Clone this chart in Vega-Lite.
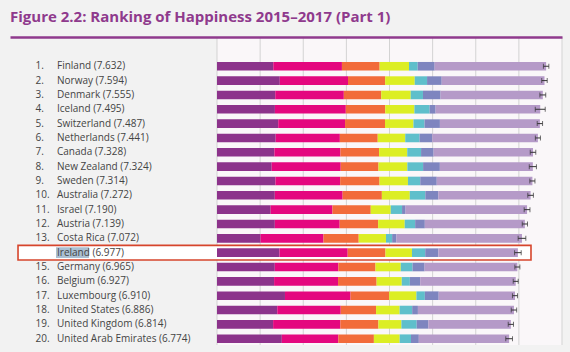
{
  "$schema": "https://vega.github.io/schema/vega-lite/v6.json",
  "width": 552,
  "height": 308,
  "autosize": {"type": "none"},
  "padding": {"left": 10, "top": 37, "right": 8, "bottom": 7},
  "background": "#f2f2f2",
  "config": {"view": {"stroke": null}},
  "title": {
    "text": "Figure 2.2: Ranking of Happiness 2015–2017 (Part 1)",
    "anchor": "start",
    "frame": "group",
    "font": "Open Sans",
    "fontSize": 15,
    "fontWeight": "bold",
    "color": "#8f3a8d",
    "offset": 0,
    "baseline": "alphabetic"
  },
  "data": {
    "values": [
      {"rank": 1, "country": "Finland", "label": "Finland (7.632)", "score": 7.632, "lo": 7.569, "hi": 7.695, "gdp": 1.305, "social": 1.592, "health": 0.874, "freedom": 0.681, "generosity": 0.202, "corruption": 0.393, "dystopia": 2.585},
      {"rank": 2, "country": "Norway", "label": "Norway (7.594)", "score": 7.594, "lo": 7.53, "hi": 7.657, "gdp": 1.456, "social": 1.582, "health": 0.861, "freedom": 0.686, "generosity": 0.286, "corruption": 0.34, "dystopia": 2.383},
      {"rank": 3, "country": "Denmark", "label": "Denmark (7.555)", "score": 7.555, "lo": 7.487, "hi": 7.623, "gdp": 1.351, "social": 1.59, "health": 0.868, "freedom": 0.683, "generosity": 0.284, "corruption": 0.408, "dystopia": 2.371},
      {"rank": 4, "country": "Iceland", "label": "Iceland (7.495)", "score": 7.495, "lo": 7.38, "hi": 7.611, "gdp": 1.343, "social": 1.644, "health": 0.914, "freedom": 0.677, "generosity": 0.353, "corruption": 0.138, "dystopia": 2.426},
      {"rank": 5, "country": "Switzerland", "label": "Switzerland (7.487)", "score": 7.487, "lo": 7.425, "hi": 7.549, "gdp": 1.42, "social": 1.549, "health": 0.927, "freedom": 0.66, "generosity": 0.256, "corruption": 0.357, "dystopia": 2.318},
      {"rank": 6, "country": "Netherlands", "label": "Netherlands (7.441)", "score": 7.441, "lo": 7.382, "hi": 7.5, "gdp": 1.361, "social": 1.488, "health": 0.878, "freedom": 0.638, "generosity": 0.333, "corruption": 0.295, "dystopia": 2.448},
      {"rank": 7, "country": "Canada", "label": "Canada (7.328)", "score": 7.328, "lo": 7.264, "hi": 7.392, "gdp": 1.33, "social": 1.532, "health": 0.896, "freedom": 0.653, "generosity": 0.321, "corruption": 0.291, "dystopia": 2.305},
      {"rank": 8, "country": "New Zealand", "label": "New Zealand (7.324)", "score": 7.324, "lo": 7.241, "hi": 7.407, "gdp": 1.268, "social": 1.601, "health": 0.876, "freedom": 0.669, "generosity": 0.365, "corruption": 0.389, "dystopia": 2.156},
      {"rank": 9, "country": "Sweden", "label": "Sweden (7.314)", "score": 7.314, "lo": 7.254, "hi": 7.373, "gdp": 1.355, "social": 1.501, "health": 0.913, "freedom": 0.659, "generosity": 0.285, "corruption": 0.383, "dystopia": 2.218},
      {"rank": 10, "country": "Australia", "label": "Australia (7.272)", "score": 7.272, "lo": 7.207, "hi": 7.337, "gdp": 1.34, "social": 1.573, "health": 0.91, "freedom": 0.647, "generosity": 0.361, "corruption": 0.302, "dystopia": 2.139},
      {"rank": 11, "country": "Israel", "label": "Israel (7.190)", "score": 7.19, "lo": 7.123, "hi": 7.257, "gdp": 1.244, "social": 1.433, "health": 0.888, "freedom": 0.464, "generosity": 0.262, "corruption": 0.082, "dystopia": 2.817},
      {"rank": 12, "country": "Austria", "label": "Austria (7.139)", "score": 7.139, "lo": 7.078, "hi": 7.2, "gdp": 1.341, "social": 1.504, "health": 0.891, "freedom": 0.617, "generosity": 0.242, "corruption": 0.224, "dystopia": 2.32},
      {"rank": 13, "country": "Costa Rica", "label": "Costa Rica (7.072)", "score": 7.072, "lo": 6.983, "hi": 7.161, "gdp": 1.01, "social": 1.459, "health": 0.817, "freedom": 0.632, "generosity": 0.143, "corruption": 0.101, "dystopia": 2.91},
      {"rank": 14, "country": "Ireland", "label": "Ireland (6.977)", "score": 6.977, "lo": 6.9, "hi": 7.054, "gdp": 1.448, "social": 1.583, "health": 0.876, "freedom": 0.614, "generosity": 0.307, "corruption": 0.306, "dystopia": 1.843},
      {"rank": 15, "country": "Germany", "label": "Germany (6.965)", "score": 6.965, "lo": 6.907, "hi": 7.023, "gdp": 1.34, "social": 1.474, "health": 0.861, "freedom": 0.586, "generosity": 0.273, "corruption": 0.28, "dystopia": 2.151},
      {"rank": 16, "country": "Belgium", "label": "Belgium (6.927)", "score": 6.927, "lo": 6.869, "hi": 6.985, "gdp": 1.324, "social": 1.483, "health": 0.894, "freedom": 0.583, "generosity": 0.188, "corruption": 0.24, "dystopia": 2.215},
      {"rank": 17, "country": "Luxembourg", "label": "Luxembourg (6.910)", "score": 6.91, "lo": 6.851, "hi": 6.969, "gdp": 1.576, "social": 1.52, "health": 0.896, "freedom": 0.632, "generosity": 0.196, "corruption": 0.321, "dystopia": 1.769},
      {"rank": 18, "country": "United States", "label": "United States (6.886)", "score": 6.886, "lo": 6.823, "hi": 6.949, "gdp": 1.398, "social": 1.471, "health": 0.819, "freedom": 0.547, "generosity": 0.291, "corruption": 0.133, "dystopia": 2.227},
      {"rank": 19, "country": "United Kingdom", "label": "United Kingdom (6.814)", "score": 6.814, "lo": 6.753, "hi": 6.875, "gdp": 1.301, "social": 1.559, "health": 0.883, "freedom": 0.533, "generosity": 0.354, "corruption": 0.272, "dystopia": 1.912},
      {"rank": 20, "country": "United Arab Emirates", "label": "United Arab Emirates (6.774)", "score": 6.774, "lo": 6.696, "hi": 6.852, "gdp": 1.503, "social": 1.31, "health": 0.825, "freedom": 0.598, "generosity": 0.262, "corruption": 0.182, "dystopia": 2.094}
    ]
  },
  "layer": [
    {
      "data": {"values": [{"from": 0, "to": 8}]},
      "mark": {"type": "rect", "color": "#faf7f9"},
      "encoding": {
        "x": {
          "field": "from",
          "type": "quantitative",
          "scale": {"domain": [-4.8, 8], "nice": false, "zero": false},
          "axis": {"orient": "top", "labels": false, "ticks": false, "grid": false, "title": null, "domain": true, "domainColor": "#8f3a8d", "domainWidth": 2.5, "zindex": 1}
        },
        "x2": {"field": "to"}
      }
    },
    {
      "data": {"values": [{"v": 0}, {"v": 1}, {"v": 2}, {"v": 3}, {"v": 4}, {"v": 5}, {"v": 6}, {"v": 7}, {"v": 8}]},
      "mark": {"type": "rule", "color": "#d3d3d3", "strokeWidth": 1},
      "encoding": {"x": {"field": "v", "type": "quantitative"}}
    },
    {
      "transform": [{"filter": "datum.country === 'Ireland'"}],
      "mark": {"type": "bar", "fill": "#ffffff", "stroke": "#d6452c", "strokeWidth": 1.6, "height": {"band": 1.7}},
      "encoding": {
        "y": {"field": "rank", "type": "ordinal"},
        "x": {"datum": -4.614, "type": "quantitative"},
        "x2": {"datum": 7.281}
      }
    },
    {
      "transform": [{"filter": "datum.country === 'Ireland'"}],
      "mark": {"type": "bar", "fill": "#a9bfd2", "height": {"band": 1.25}},
      "encoding": {
        "y": {"field": "rank", "type": "ordinal"},
        "x": {"datum": -3.733, "type": "quantitative"},
        "x2": {"datum": -2.968}
      }
    },
    {
      "transform": [
        {"fold": ["gdp", "social", "health", "freedom", "generosity", "corruption", "dystopia"]},
        {
          "lookup": "key",
          "from": {
            "data": {"values": [
              {"key": "gdp", "idx": 1},
              {"key": "social", "idx": 2},
              {"key": "health", "idx": 3},
              {"key": "freedom", "idx": 4},
              {"key": "generosity", "idx": 5},
              {"key": "corruption", "idx": 6},
              {"key": "dystopia", "idx": 7}
            ]},
            "key": "key",
            "fields": ["idx"]
          }
        }
      ],
      "mark": {"type": "bar"},
      "encoding": {
        "y": {
          "field": "rank",
          "type": "ordinal",
          "scale": {"type": "band", "paddingInner": 0.4, "paddingOuter": 0.94, "align": 0.926},
          "axis": {"orient": "left", "domain": false, "ticks": false, "grid": false, "title": null, "labelAlign": "left", "labelPadding": -25, "labelExpr": "datum.label + '.'", "labelFont": "Open Sans", "labelFontSize": 10, "labelColor": "#444444"}
        },
        "x": {"field": "value", "type": "quantitative", "stack": "zero"},
        "order": {"field": "idx", "type": "quantitative"},
        "color": {
          "field": "key",
          "type": "nominal",
          "scale": {
            "domain": ["gdp", "social", "health", "freedom", "generosity", "corruption", "dystopia"],
            "range": ["#8c338b", "#e4087f", "#f26b3a", "#dcee24", "#5fbfcb", "#7e85bf", "#b59ac8"]
          },
          "legend": null
        }
      }
    },
    {
      "mark": {"type": "errorbar", "color": "#333333", "ticks": {"size": 5}, "thickness": 1},
      "encoding": {
        "y": {"field": "rank", "type": "ordinal"},
        "x": {"field": "lo", "type": "quantitative"},
        "x2": {"field": "hi"}
      }
    },
    {
      "mark": {"type": "text", "align": "left", "baseline": "middle", "font": "Open Sans", "fontSize": 10, "color": "#444444"},
      "encoding": {
        "y": {"field": "rank", "type": "ordinal"},
        "x": {"datum": -3.71, "type": "quantitative"},
        "text": {"field": "label"}
      }
    }
  ]
}
